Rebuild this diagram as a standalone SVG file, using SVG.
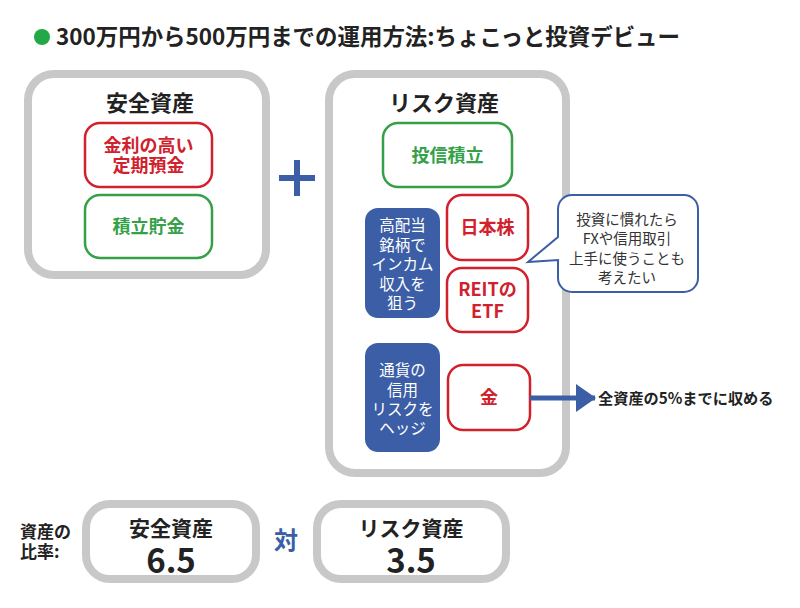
<svg xmlns="http://www.w3.org/2000/svg" width="800" height="608" viewBox="0 0 800 608">
<defs>
<style>
text{font-family:"Noto Sans CJK JP","Noto Sans",sans-serif;font-weight:bold;text-anchor:middle;fill:#222}
.big{fill:#fff;stroke:#c8c8c8;stroke-width:8}
.red{fill:#fff;stroke:#d0212d;stroke-width:2.5}
.grn{fill:#fff;stroke:#35a048;stroke-width:2.5}
.blu{fill:#3b5ea6}
.tr{fill:#d0212d;font-size:18px}
.tg{fill:#35a048;font-size:18px}
.tw{fill:#fff;font-size:15.5px;font-weight:normal}
.tb{fill:#333;font-size:14.5px;font-weight:normal}
.h{font-size:22px}
</style>
<marker id="ah" viewBox="0 0 10 10" refX="9.5" refY="5" markerWidth="4" markerHeight="5.6" orient="auto" markerUnits="strokeWidth" preserveAspectRatio="none"><path d="M0,0L10,5L0,10z" fill="#3b5ea6"/></marker>
</defs>
<rect width="800" height="608" fill="#fff"/>
<g id="title">
<circle cx="42" cy="37" r="8" fill="#22a846"/>
<text x="56" y="45" textLength="624" lengthAdjust="spacingAndGlyphs" style="text-anchor:start;font-size:22.5px">300万円から500万円までの運用方法:ちょこっと投資デビュー</text>
</g>
<g id="safe">
<rect class="big" x="28" y="74" width="238" height="201" rx="26"/>
<text class="h" x="150" y="111">安全資産</text>
</g>
<g id="deposit">
<rect class="red" x="85" y="123" width="127" height="64" rx="15"/>
<text class="tr" x="148.5" y="152">金利の高い<tspan x="148.5" dy="20">定期預金</tspan></text>
</g>
<g id="savings">
<rect class="grn" x="85" y="195" width="127" height="63" rx="15"/>
<text class="tg" x="148.5" y="233">積立貯金</text>
</g>
<g id="plus" fill="#3b5ea6">
<rect x="279" y="175" width="36" height="6"/>
<rect x="294" y="160" width="6" height="36"/>
</g>
<g id="risk">
<rect class="big" x="329" y="74" width="237" height="399" rx="26"/>
<text class="h" x="444" y="111">リスク資産</text>
</g>
<g id="fund">
<rect class="grn" x="383" y="123" width="129" height="64" rx="15"/>
<text class="tg" x="447.5" y="162">投信積立</text>
</g>
<g id="income">
<rect class="blu" x="365" y="208" width="75" height="110" rx="13"/>
<text class="tw" x="402.5" y="231">高配当<tspan x="402.5" dy="19.5">銘柄で</tspan><tspan x="402.5" dy="19.5">インカム</tspan><tspan x="402.5" dy="19.5">収入を</tspan><tspan x="402.5" dy="19.5">狙う</tspan></text>
</g>
<g id="jpstock">
<rect class="red" x="447" y="195" width="81" height="65" rx="15"/>
<text class="tr" x="487.5" y="234">日本株</text>
</g>
<g id="reit">
<rect class="red" x="447" y="268" width="81" height="64" rx="15"/>
<text class="tr" x="487.5" y="296">REITの<tspan x="487.5" dy="22">ETF</tspan></text>
</g>
<g id="bubble">
<path d="M572,195H684a14,14 0 0 1 14,14V278a14,14 0 0 1 -14,14H572a14,14 0 0 1 -14,-14V260L528,262L558,237V209a14,14 0 0 1 14,-14Z" fill="#fff" stroke="#3b5ea6" stroke-width="2"/>
<text class="tb" x="627" y="225">投資に慣れたら<tspan x="627" dy="19.3">FXや信用取引</tspan><tspan x="627" dy="19.3">上手に使うことも</tspan><tspan x="627" dy="19.3">考えたい</tspan></text>
</g>
<g id="hedge">
<rect class="blu" x="365" y="343" width="75" height="109" rx="13"/>
<text class="tw" x="402.5" y="376">通貨の<tspan x="402.5" dy="19.5">信用</tspan><tspan x="402.5" dy="19.5">リスクを</tspan><tspan x="402.5" dy="19">ヘッジ</tspan></text>
</g>
<g id="gold">
<rect class="red" x="448" y="365" width="82" height="65" rx="15"/>
<text class="tr" x="489" y="404">金</text>
</g>
<g id="connectors">
<line x1="530" y1="398" x2="595" y2="398" stroke="#3b5ea6" stroke-width="5" marker-end="url(#ah)"/>
</g>
<g id="note">
<text x="598" y="404" style="text-anchor:start;font-size:15.2px">全資産の5%までに収める</text>
</g>
<g id="ratio">
<text x="20" y="538" style="text-anchor:start;font-size:17px">資産の<tspan x="20" dy="20">比率:</tspan></text>
</g>
<g id="safe-ratio">
<rect class="big" x="86" y="504" width="170" height="75" rx="24"/>
<text x="171" y="536" style="font-size:21px">安全資産<tspan x="171" dy="37" style="font-size:33px">6.5</tspan></text>
</g>
<g id="vs">
<text x="286" y="549" style="font-size:24px;fill:#3b5ea6">対</text>
</g>
<g id="risk-ratio">
<rect class="big" x="317" y="504" width="189" height="75" rx="24"/>
<text x="411" y="536" style="font-size:21px">リスク資産<tspan x="411" dy="37" style="font-size:33px">3.5</tspan></text>
</g>
</svg>
